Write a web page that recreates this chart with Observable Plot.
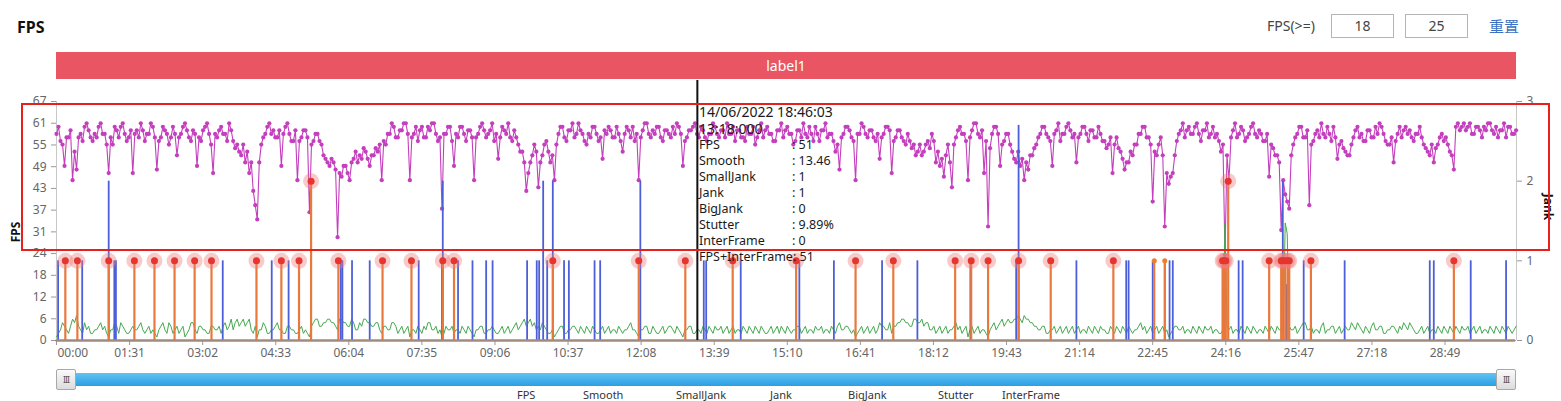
<!DOCTYPE html>
<html><head><meta charset="utf-8">
<script src="https://cdn.jsdelivr.net/npm/d3@7"></script>
<script src="https://cdn.jsdelivr.net/npm/@observablehq/plot@0.6"></script>
<style>
html,body{margin:0;padding:0;background:#fff;}
body{width:1561px;height:401px;overflow:hidden;position:relative;font-family:"Noto Sans","Noto Sans CJK SC",sans-serif;color:#333;}
#chart{position:absolute;left:0;top:0;}
.abs{position:absolute;}
#title{left:17px;top:16px;font-size:16px;font-weight:bold;color:#111;}
#fpslbl{left:1267px;top:16px;font-size:14px;color:#444;}
.inp{top:14px;width:61px;height:22px;border:1px solid #b5b5b5;font-size:14px;line-height:22px;text-align:center;color:#444;}
#reset{left:1489px;top:15px;font-size:15px;color:#3b6fc2;}
#labelbar{left:56px;top:52px;width:1460px;height:27px;background:#ea5563;color:#fff;font-size:14px;line-height:27px;text-align:center;}
#redbox{left:21px;top:103px;width:1525px;height:144px;border:2px solid #e8201c;}
#tooltip{left:699px;top:103px;color:#1a1a1a;font-size:12.5px;}
#tooltip .big{font-size:14px;line-height:18px;height:18px;}
#tooltip .big2{font-size:14px;line-height:16px;height:16px;}
#tooltip .row{display:flex;line-height:16px;height:16px;}
#tooltip .row span:first-child{width:93px;display:inline-block;}
#ylab{left:15px;top:232px;font-size:12px;font-weight:bold;color:#111;transform:translate(-50%,-50%) rotate(-90deg);}
#jlab{left:1548px;top:207px;font-size:12px;font-weight:bold;color:#111;transform:translate(-50%,-50%) rotate(90deg);}
#slider{left:56px;top:373px;width:1460px;height:13px;background:linear-gradient(#62c3f2,#2a9fe4);}
.handle{top:369px;width:18px;height:19px;border:1px solid #a8a8a8;background:linear-gradient(#fafafa,#dcdcdc);font-size:9px;line-height:19px;text-align:center;color:#555;letter-spacing:-1px;border-radius:2px;}
.leg{top:389px;font-size:11px;line-height:11px;color:#333;}
</style></head><body>
<div id="chart"></div>
<script>
// ---------- data ----------
const SAMPLE_STEP = 2.5; // seconds between samples
const fpsValues = [
58,60,56,55,49,57,57,59,45,53,48,57,58,56,60,61,59,57,56,58,57,60,61,58,58,55,47,57,55,60,59,57,60,61,58,56,57,59,47,58,
59,57,61,59,56,58,58,61,60,57,48,56,57,60,59,58,55,57,60,58,52,57,58,60,61,59,57,56,59,58,49,57,56,59,60,61,58,55,47,58,
57,59,60,58,58,56,61,59,56,54,55,53,52,55,50,53,47,50,42,38,34,50,55,57,58,60,61,58,59,57,57,59,49,58,60,61,58,56,56,59,
45,56,57,59,59,57,36,55,56,58,58,56,55,52,51,50,49,51,50,48,29,47,46,49,49,47,45,50,51,53,50,52,51,54,53,51,49,52,52,54,
53,55,45,56,55,58,58,61,60,57,57,59,59,61,61,58,45,57,58,60,56,59,60,57,57,60,59,61,61,58,56,57,37,58,58,60,60,56,49,58,
57,60,60,58,56,59,59,57,45,57,58,60,61,59,57,58,59,61,56,58,51,57,60,59,58,61,57,56,59,57,55,53,53,50,42,47,50,52,55,53,
43,50,52,55,56,53,50,52,45,55,58,60,60,57,56,59,59,61,57,58,61,59,58,56,55,58,57,60,60,58,56,57,51,59,58,60,59,57,57,60,
58,56,53,58,60,59,57,60,56,58,45,57,59,61,61,58,57,59,58,60,60,57,56,59,59,58,57,60,58,61,60,58,49,56,57,59,59,60,61,58,
57,60,59,57,56,58,58,61,60,58,57,59,59,57,61,58,58,60,56,59,59,57,57,56,60,58,58,60,55,57,59,61,57,59,60,58,58,56,56,59,
59,61,57,59,60,58,58,55,56,59,59,57,61,58,57,60,58,56,60,58,56,59,59,61,57,58,58,56,53,55,48,57,58,60,60,59,57,56,45,58,
58,61,60,58,57,59,59,57,56,58,51,57,58,60,60,59,47,56,57,59,59,57,56,55,58,56,54,55,52,53,55,52,53,55,56,54,58,56,50,53,
49,51,46,52,55,50,43,55,57,59,60,58,58,56,45,57,59,61,61,58,57,59,47,56,32,54,58,60,60,58,49,55,56,58,58,55,53,51,50,53,
49,51,45,50,48,52,52,54,55,57,58,60,60,58,57,56,49,58,59,61,56,58,58,60,61,59,57,58,50,57,58,60,60,58,56,59,59,57,57,60,
58,56,56,54,55,57,47,55,57,54,53,51,48,50,50,53,52,55,55,58,58,60,60,57,57,55,39,53,52,55,57,52,32,47,44,46,47,52,56,58,
59,61,57,59,60,58,58,60,61,58,56,59,59,61,57,58,60,57,58,56,53,55,24,52,45,57,59,61,57,58,60,59,56,57,58,60,61,58,57,59,
58,56,56,58,46,55,54,52,52,50,31,45,41,39,37,52,55,57,58,60,60,57,57,59,38,55,56,58,59,57,61,58,57,60,58,56,60,57,51,55,
56,54,53,52,52,55,57,59,60,57,58,56,56,59,59,57,57,60,58,61,60,58,56,55,55,57,50,56,58,60,57,59,60,58,59,57,56,58,58,60,
57,55,54,53,52,55,50,54,55,57,58,56,57,55,53,52,48,60,61,59,60,61,59,60,61,58,58,60,60,59,57,60,59,61,61,59,58,60,57,59,
59,61,57,60,60,58,58,59];
const smoothValues = [
1,2,3,5,4,3,2,4,6,5,7,4,3,2,5,3,4,2,2,3,3,4,5,3,4,2,1,3,3,5,4,2,5,4,3,2,2,3,4,3,
3,4,5,3,2,3,4,2,3,2,1,3,4,5,3,2,5,4,2,3,4,2,3,4,1,2,3,5,5,3,2,4,4,3,3,2,2,4,4,3,
3,4,2,4,5,3,4,6,3,5,6,4,5,6,4,5,6,3,2,4,1,3,3,5,4,2,2,3,3,4,5,3,3,2,2,4,4,3,3,2,
2,3,4,2,3,2,1,4,5,6,6,4,4,5,5,6,6,5,5,4,3,6,6,5,5,4,4,6,5,3,3,5,4,6,6,5,5,4,4,5,
5,3,2,4,4,3,3,5,5,4,2,3,4,2,3,4,1,3,3,2,4,3,2,4,3,5,5,3,3,4,2,3,1,2,4,3,3,4,2,3,
3,2,4,3,2,4,3,2,1,3,3,4,4,2,2,3,3,4,3,2,2,3,4,2,3,4,2,3,4,5,3,4,5,6,4,5,6,4,5,3,
4,3,5,4,3,2,2,3,1,2,3,4,4,2,2,3,3,4,4,3,2,4,3,2,4,3,2,4,3,2,2,3,4,2,3,4,2,3,3,2,
4,3,2,3,3,4,5,3,3,2,1,3,3,4,4,2,2,4,3,2,2,3,4,2,3,4,4,3,2,4,3,2,1,3,3,4,4,2,2,3,
3,2,4,3,2,4,3,2,4,3,3,4,2,3,4,2,3,4,2,3,3,2,4,3,2,4,3,2,4,3,2,4,3,2,2,3,4,2,3,4,
2,4,3,2,4,3,2,3,3,4,4,2,3,4,2,3,3,2,4,3,3,4,2,3,3,2,4,3,2,4,5,3,3,4,4,3,2,3,1,2,
3,4,2,3,4,2,3,4,2,3,5,4,4,3,3,5,2,4,4,5,5,6,6,5,5,4,4,6,6,5,5,6,4,5,5,3,3,4,2,3,
4,2,3,4,2,3,3,4,5,3,4,2,3,4,1,3,4,2,3,4,2,3,3,2,1,3,4,5,3,4,5,6,4,5,6,5,5,6,6,7,
6,5,7,6,6,5,5,4,4,3,3,4,4,2,2,3,3,4,2,3,4,2,3,4,2,3,4,2,3,4,2,3,3,2,4,3,2,4,3,2,
4,3,3,2,2,4,3,2,4,3,2,4,3,2,4,3,2,3,3,4,5,3,4,2,3,4,2,3,4,2,3,4,2,3,1,2,3,4,4,3,
3,4,2,3,3,2,4,3,2,4,3,2,4,3,3,4,2,3,3,2,2,3,33,4,3,4,2,3,3,2,4,3,2,4,3,2,4,3,2,3,
3,2,4,3,2,4,3,2,4,3,3,2,33,30,4,3,3,4,2,3,4,5,5,3,3,4,2,3,3,2,4,5,2,3,3,4,4,2,3,4,
2,3,4,3,3,5,4,3,5,4,3,2,4,3,2,4,5,3,3,4,4,2,2,3,3,4,4,3,2,4,3,5,4,3,5,4,3,2,2,3,
4,2,3,4,2,3,3,2,4,3,2,4,3,2,4,3,2,4,3,2,4,3,3,4,2,3,4,2,3,4,2,3,3,2,4,3,2,4,3,2,
4,3,2,4,3,2,3,4];
// SmallJank events (seconds, jank value)
const smallJankTimes  = [2,32,65,72,74,207,268,289,354,356,368,390,451,480,481,500,518,535,543,586,598,601,606,611,618,632,638,670,677,727,806,809,852,925,968,1028,1072,1138,1195,1198,1270,1332,1335,1365,1380,1386,1390,1454,1472,1477,1527,1532,1553,1604,1710,1715,1761,1805];
const smallJankValues = [1,1,2,1,1,1,1,1,1,1,1,1,1,1,2,1,1,1,1,1,1,1,2,1,2,1,1,1,1,2,1,1,1,1,1,1,1,1,1,2.7,1,1,1,1,1,1,1,0.66,1,1,2,0.7,1,1,1,1,1,1];
// Jank events (seconds, jank value), marked with a point
const jankTimes  = [11,26,65,97,122,147,172,193,249,280,302,317,351,406,442,481,495,618,725,783,842,921,995,1042,1119,1139,1160,1198,1238,1316,1452,1454,1456,1459,1510,1525,1527,1530,1533,1535,1562,1740];
const jankValues = [1,1,1,1,1,1,1,1,1,1,1,2,1,1,1,1,1,1,1,1,1,1,1,1,1,1,1,1,1,1,1,1,1,2,1,1,1,1,1,1,1,1];
// Jank events without mark point
const jankPlainTimes  = [1367,1380];
const jankPlainValues = [1,1];
// InterFrame (zero throughout)
const interFrameTimes  = [0,1815];
const interFrameValues = [0,0];
// Axes
const fpsTickValues = [0,6.1,12.2,18.3,24.4,30.5,36.6,42.7,48.8,54.9,61,67.1];
const fpsTickLabels = ["0","6","12","18","24","31","37","43","49","55","61","67"];
const jankTickValues = [0,1,2,3];
const xTickSeconds = [0,91,182,273,364,455,546,637,728,819,910,1001,1092,1183,1274,1365,1456,1547,1638,1729];
const xTickLabels = ["00:00","01:31","03:02","04:33","06:04","07:35","09:06","10:37","12:08","13:39","15:10","16:41","18:12","19:43","21:14","22:45","24:16","25:47","27:18","28:49"];
const X_MAX = 1818, Y_MAX = 67.1, J_MAX = 3;
const cursorTime = 798;
const tooltipDate = "14/06/2022 18:46:03";
const tooltipTime = "13:18:000";
const tooltipRows = [["FPS","51"],["Smooth","13.46"],["SmallJank","1"],["Jank","1"],["BigJank","0"],["Stutter","9.89%"],["InterFrame","0"]];
const tooltipLast = ["FPS+InterFrame","51"];
const legendNames = ["FPS","Smooth","SmallJank","Jank","BigJank","Stutter","InterFrame"];

// ---------- build ----------
const jk = Y_MAX / J_MAX;
const fpsData = fpsValues.map((v,i)=>({t:i*SAMPLE_STEP, v}));
const smoothData = smoothValues.map((v,i)=>({t:i*SAMPLE_STEP, v}));
const smallJank = smallJankTimes.map((t,i)=>({t, v:smallJankValues[i]*jk}));
const jank = jankTimes.map((t,i)=>({t, v:jankValues[i]*jk}));
const jankPlain = jankPlainTimes.map((t,i)=>({t, v:jankPlainValues[i]*jk}));
const interFrame = interFrameTimes.map((t,i)=>({t, v:interFrameValues[i]*jk}));
const font = '"Noto Sans","Noto Sans CJK SC",sans-serif';

const plot = Plot.plot({
  width:1561, height:401,
  marginTop:101, marginBottom:61, marginLeft:56, marginRight:45,
  style:{fontSize:"12px", fontFamily:font, background:"transparent"},
  x:{domain:[0,X_MAX]},
  y:{domain:[0,Y_MAX]},
  marks:[
    Plot.ruleX([0],{stroke:"#c8c8c8"}),
    Plot.ruleX([X_MAX],{stroke:"#c8c8c8"}),
    Plot.axisY(fpsTickValues,{anchor:"left", tickSize:5, tickPadding:5, label:null, stroke:"#999", fill:"#666",
      tickFormat:d=>fpsTickLabels[fpsTickValues.indexOf(d)]}),
    Plot.axisY(jankTickValues.map(j=>j*jk),{anchor:"right", tickSize:5, tickPadding:5, label:null, stroke:"#999", fill:"#666",
      tickFormat:d=>String(Math.round(d/jk))}),
    Plot.axisX(xTickSeconds,{anchor:"bottom", tickSize:5, tickPadding:3, label:null, stroke:"#999", fill:"#666",
      tickFormat:d=> d===xTickSeconds[0] ? "" : xTickLabels[xTickSeconds.indexOf(d)]}),
    Plot.text([xTickSeconds[0]],{x:d=>d, text:()=>xTickLabels[0], frameAnchor:"bottom", textAnchor:"start", lineAnchor:"top", dy:8, dx:1, fill:"#666"}),
    Plot.ruleY([0],{stroke:"#aaa"}),
    Plot.line(fpsData,{x:"t", y:"v", stroke:"#c43fbd", strokeWidth:1.1}),
    Plot.dot(fpsData,{x:"t", y:"v", r:2.1, fill:"#c43fbd", stroke:null}),
    Plot.line(smoothData,{x:"t", y:"v", stroke:"#44a84e", strokeWidth:1}),
    Plot.ruleX(smallJank,{x:"t", y1:0, y2:"v", stroke:"#4d5fd8", strokeWidth:1.8}),
    Plot.ruleX(jank,{x:"t", y1:0, y2:"v", stroke:"#e9783d", strokeWidth:2.2}),
    Plot.ruleX(jankPlain,{x:"t", y1:0, y2:"v", stroke:"#e9783d", strokeWidth:2}),
    Plot.dot(jankPlain,{x:"t", y:"v", r:2.5, fill:"#ef7d2c"}),
    Plot.line(interFrame,{x:"t", y:"v", stroke:"#a08b7c", strokeWidth:2.5}),
    Plot.dot(jank,{x:"t", y:"v", r:8, fill:"#f07a7a", fillOpacity:0.4}),
    Plot.dot(jank,{x:"t", y:"v", r:3.5, fill:"#e4352f"}),
    Plot.ruleX([cursorTime],{stroke:"#111", strokeWidth:2, insetTop:-21})
  ]
});
document.getElementById("chart").appendChild(plot);

// ---------- HTML overlays ----------
function add(html){ document.body.insertAdjacentHTML("beforeend", html); }
add(`<div class="abs" id="title">FPS</div>`);
add(`<div class="abs" id="fpslbl">FPS(&gt;=)</div>`);
add(`<div class="abs inp" style="left:1331px">18</div>`);
add(`<div class="abs inp" style="left:1405px">25</div>`);
add(`<div class="abs" id="reset">重置</div>`);
add(`<div class="abs" id="labelbar">label1</div>`);
add(`<div class="abs" id="ylab">FPS</div>`);
add(`<div class="abs" id="jlab">Jank</div>`);
add(`<div class="abs" id="slider"></div>`);
add(`<div class="abs handle" style="left:56px">III</div>`);
add(`<div class="abs handle" style="left:1496px">III</div>`);
const legendLeft = [517,583,676,770,848,938,1002];
legendNames.forEach((n,i)=>add(`<div class="abs leg" style="left:${legendLeft[i]}px">${n}</div>`));
let tt = `<div class="abs" id="tooltip"><div class="big">${tooltipDate}</div><div class="big2">${tooltipTime}</div>`;
tooltipRows.forEach(r=>{ tt += `<div class="row"><span>${r[0]}</span><span>: ${r[1]}</span></div>`; });
tt += `<div class="row"><span style="width:auto">${tooltipLast[0]}</span><span>: ${tooltipLast[1]}</span></div></div>`;
add(tt);
add(`<div class="abs" id="redbox"></div>`);
</script>
</body></html>
